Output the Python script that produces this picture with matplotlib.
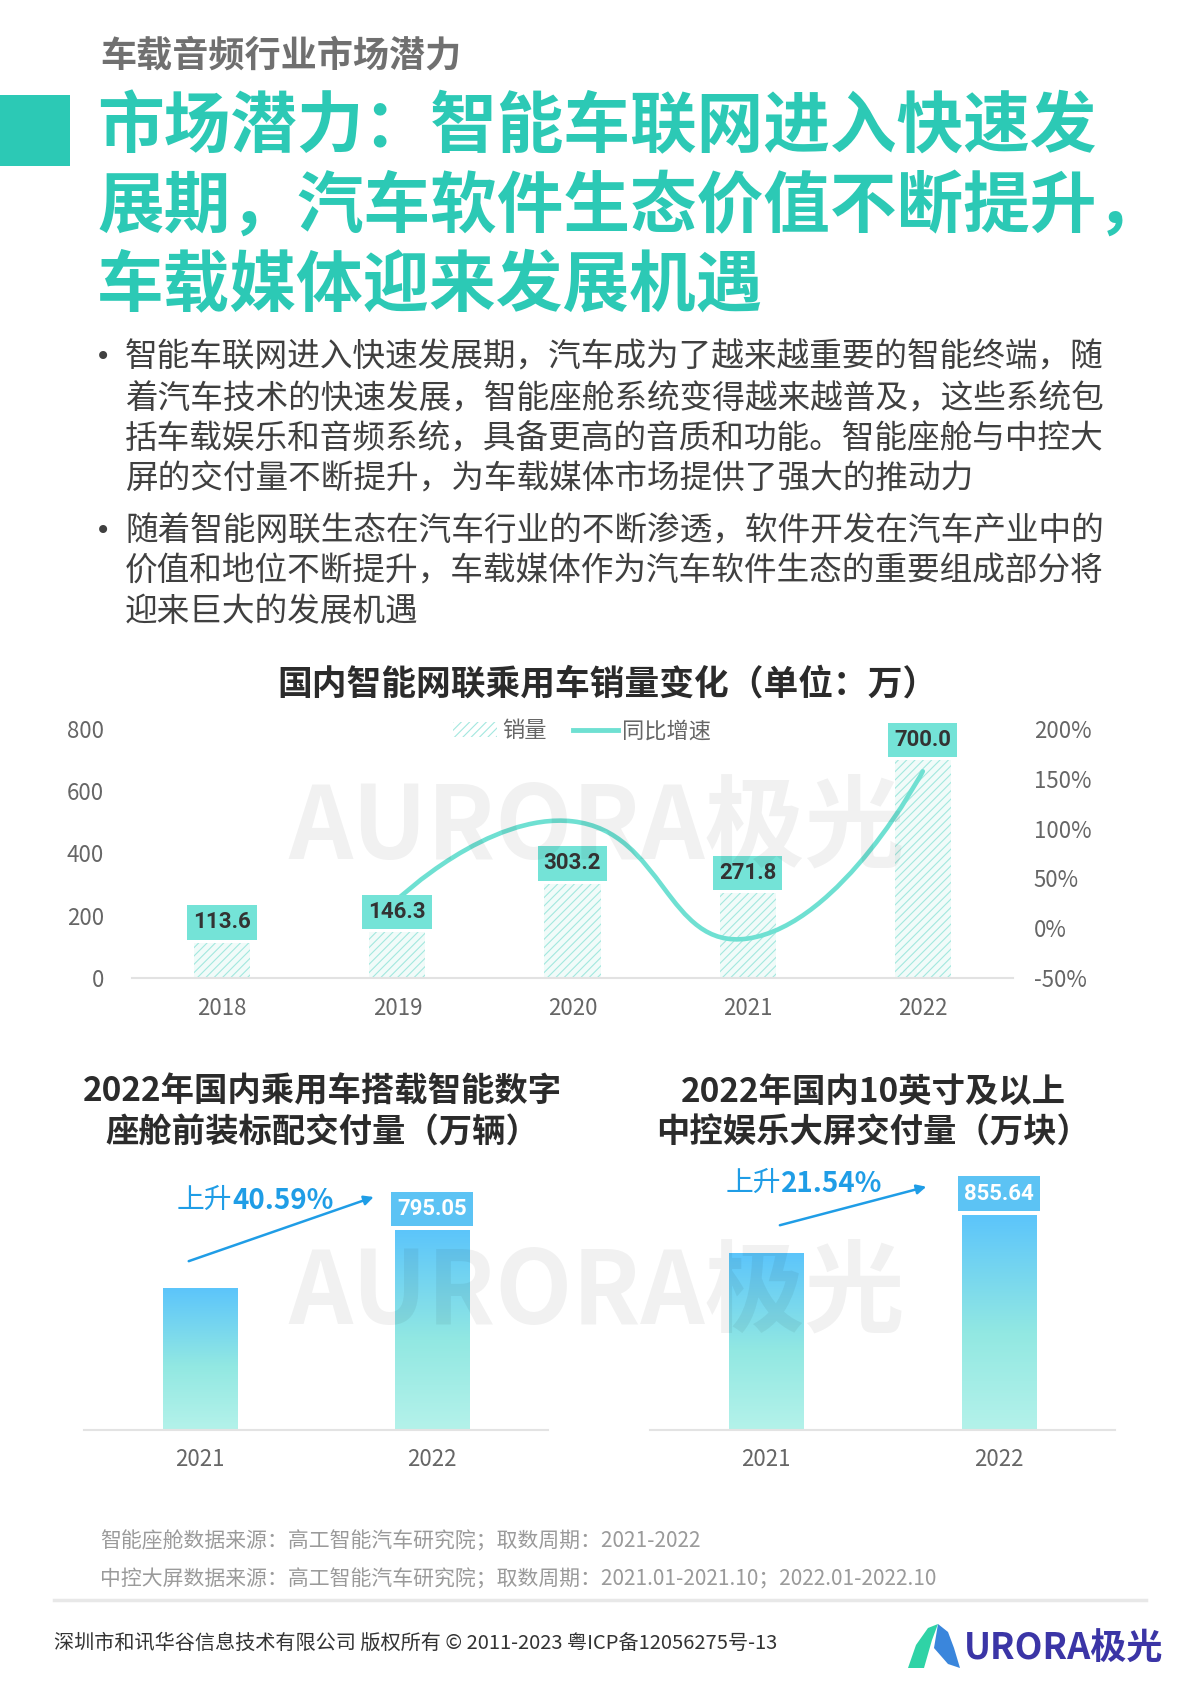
import numpy as np
import matplotlib
matplotlib.use('Agg')
import matplotlib.pyplot as plt
from matplotlib.patches import Rectangle, Polygon, Patch, PathPatch
from matplotlib.lines import Line2D
from matplotlib.path import Path
from matplotlib.colors import LinearSegmentedColormap

plt.rcParams['font.family'] = ['Noto Sans CJK SC', 'DejaVu Sans']
plt.rcParams['hatch.linewidth'] = 0.8

W, H = 1200, 1698

# ---- data ----
years = ['2018', '2019', '2020', '2021', '2022']
sales = [113.6, 146.3, 303.2, 271.8, 700.0]          # 万辆
growth_years = [1, 2, 3, 4]                           # index of 2019..2022
growth = [28.8, 107.3, -10.4, 157.5]                  # 同比增速 %
left_ticks = [0, 200, 400, 600, 800]
right_ticks = [-50, 0, 50, 100, 150, 200]

cockpit_years = ['2021', '2022']
cockpit = [565.51, 795.05]
cockpit_rise = '40.59%'

screen_years = ['2021', '2022']
screen = [704.0, 855.64]
screen_rise = '21.54%'

bullets = [
    ['智能车联网进入快速发展期，汽车成为了越来越重要的智能终端，随',
     '着汽车技术的快速发展，智能座舱系统变得越来越普及，这些系统包',
     '括车载娱乐和音频系统，具备更高的音质和功能。智能座舱与中控大',
     '屏的交付量不断提升，为车载媒体市场提供了强大的推动力'],
    ['随着智能网联生态在汽车行业的不断渗透，软件开发在汽车产业中的',
     '价值和地位不断提升，车载媒体作为汽车软件生态的重要组成部分将',
     '迎来巨大的发展机遇'],
]
title_lines = ['市场潜力：智能车联网进入快速发',
               '展期，汽车软件生态价值不断提升，',
               '车载媒体迎来发展机遇']

TEAL = '#2cc9b5'
LINE_C = '#6fe0d2'
HATCH_C = '#a3e8df'
BOX_C = '#74e3d7'
BLUE = '#1f9de6'
BLUE_BOX = '#5cc3f4'
GRAY = '#666666'


def fx(px):
    return px / W


def fy(py):
    return 1 - py / H


fig = plt.figure(figsize=(W / 100, H / 100), dpi=100)

# ---- page header ----
fig.text(fx(100), fy(56), '车载音频行业市场潜力', fontsize=26, fontweight='bold',
         color='#707070', va='center', ha='left')
fig.add_artist(Rectangle((0, fy(166)), fx(70), 71 / H, transform=fig.transFigure,
                         color=TEAL, lw=0))
for i, t in enumerate(title_lines):
    fig.text(fx(97), fy(128 + i * 79.5), t, fontsize=48, fontweight='heavy',
             color=TEAL, va='center', ha='left')

line_y = [[357, 399, 439, 479], [531, 572, 612]]
for para, ys in zip(bullets, line_y):
    fig.text(fx(95), fy(ys[0]), '•', fontsize=20, color='#404040', va='center',
             family='DejaVu Sans')
    for t, y in zip(para, ys):
        fig.text(fx(125), fy(y), t, fontsize=23.5, color='#404040', va='center')

# ---- chart 1: 销量 + 同比增速 ----
fig.text(fx(607), fy(684), '国内智能网联乘用车销量变化（单位：万）', fontsize=25,
         fontweight='bold', color='#2b2b2b', ha='center', va='center')

ax = fig.add_axes([fx(132), fy(978), 881 / W, 249 / H])
ax.patch.set_alpha(0)
x = np.arange(len(years))
ax.bar(x, sales, width=0.32, facecolor='#f1fbf9', edgecolor=HATCH_C,
       hatch='////', lw=0, zorder=2)
ax.set_xlim(-0.515, 4.515)
ax.set_ylim(0, 800)
ax.set_yticks(left_ticks)
ax.set_xticks(x, years)
ax.tick_params(axis='y', length=0, pad=20, labelsize=16, labelcolor=GRAY)
ax.tick_params(axis='x', length=0, pad=14, labelsize=16, labelcolor=GRAY)
for s in ['top', 'left', 'right']:
    ax.spines[s].set_visible(False)
ax.spines['bottom'].set_color('#e2e2e2')
ax.spines['bottom'].set_linewidth(1.5)

for xi, v in zip(x, sales):
    ax.text(xi, v + 30, f'{v:.1f}', ha='center', va='bottom', fontsize=16,
            fontweight='bold', color='#333333', family='Roboto', zorder=6,
            bbox=dict(boxstyle='square,pad=0.28', fc=BOX_C, ec='none'))

ax2 = ax.twinx()
ax2.set_ylim(-50, 200)
ax2.set_yticks(right_ticks, [f'{t}%' for t in right_ticks])
ax2.tick_params(axis='y', length=0, pad=15, labelsize=16, labelcolor=GRAY)
for s in ax2.spines.values():
    s.set_visible(False)

# smoothed growth line (echarts-style bezier, computed in screen space)
disp = ax2.transData.transform(np.column_stack([growth_years, growth]).astype(float))
smooth = 0.5
verts = [disp[0]]
codes = [Path.MOVETO]
cp0 = disp[0]
for k in range(1, len(disp)):
    p, prev = disp[k], disp[k - 1]
    if k == len(disp) - 1:
        ncp, v, ratio = p, np.zeros(2), 0.5
    else:
        nxt = disp[k + 1]
        v = nxt - prev
        lp = np.hypot(*(p - prev))
        ln = np.hypot(*(nxt - p))
        ratio = ln / (ln + lp)
        ncp = p - v * smooth * (1 - ratio)
    verts += [cp0, ncp, p]
    codes += [Path.CURVE4] * 3
    cp0 = p + v * smooth * ratio
verts = ax2.transData.inverted().transform(np.array(verts))
ax.add_patch(PathPatch(Path(verts, codes), fill=False, ec=LINE_C, lw=3.3,
                       capstyle='round', transform=ax2.transData, zorder=4))

fig.legend(handles=[Patch(facecolor='white', edgecolor=HATCH_C, hatch='////', lw=0, label='销量'),
                    Line2D([], [], color=LINE_C, lw=3.5, label='同比增速')],
           loc='center', bbox_to_anchor=(fx(582), fy(731)), ncol=2, frameon=False,
           fontsize=16, labelcolor=GRAY, handlelength=2.0, handletextpad=0.2,
           columnspacing=1.2)

# ---- charts 2 & 3: gradient bars ----
grad_cmap = LinearSegmentedColormap.from_list('g', [(0, '#b4f2ea'), (0.45, '#92e8e2'), (1, '#5cc5fb')])
grad = np.linspace(0, 1, 256).reshape(-1, 1)


def small_chart(rect, cats, vals, rise, arrow_from, arrow_to, text_xy):
    a = fig.add_axes(rect)
    a.patch.set_alpha(0)
    xs = np.arange(len(vals))
    bars = a.bar(xs, vals, width=0.32, color='none', lw=0)
    for b in bars:
        a.imshow(grad, extent=[b.get_x(), b.get_x() + b.get_width(), 0, b.get_height()],
                 origin='lower', aspect='auto', cmap=grad_cmap, zorder=2)
    a.set_xlim(-0.5, 1.5)
    a.set_ylim(0, 1000)
    a.set_xticks(xs, cats)
    a.set_yticks([])
    a.tick_params(axis='x', length=0, pad=13, labelsize=16, labelcolor=GRAY)
    for s in ['top', 'left', 'right']:
        a.spines[s].set_visible(False)
    a.spines['bottom'].set_color('#e3e3e3')
    a.spines['bottom'].set_linewidth(1.5)
    a.text(xs[-1], vals[-1] + 42, f'{vals[-1]:.2f}', ha='center', va='bottom',
           fontsize=16, fontweight='bold', color='white', family='Roboto', zorder=6,
           bbox=dict(boxstyle='square,pad=0.28', fc=BLUE_BOX, ec='none'))
    a.annotate('', xy=arrow_to, xytext=arrow_from,
               arrowprops=dict(arrowstyle='-|>', color=BLUE, lw=1.8, mutation_scale=14))
    t1 = a.text(text_xy[0], text_xy[1], '上升', fontsize=20, color=BLUE,
                ha='left', va='center', zorder=6)
    a.annotate(rise, xy=(1, 0), xycoords=t1, ha='left', va='bottom', fontsize=20,
               fontweight='bold', color=BLUE, zorder=6)
    return a


small_chart([fx(84), fy(1430), 464 / W, 251 / H], cockpit_years, cockpit,
            cockpit_rise, (-0.06, 669), (0.76, 932), (-0.10, 916))
small_chart([fx(650), fy(1430), 465 / W, 251 / H], screen_years, screen,
            screen_rise, (0.047, 813), (0.70, 972), (-0.175, 984))

fig.text(fx(322), fy(1092), '2022年国内乘用车搭载智能数字', fontsize=24,
         fontweight='bold', color='#2b2b2b', ha='center', va='center')
fig.text(fx(322), fy(1133), '座舱前装标配交付量（万辆）', fontsize=24,
         fontweight='bold', color='#2b2b2b', ha='center', va='center')
fig.text(fx(873), fy(1092), '2022年国内10英寸及以上', fontsize=24,
         fontweight='bold', color='#2b2b2b', ha='center', va='center')
fig.text(fx(873), fy(1133), '中控娱乐大屏交付量（万块）', fontsize=24,
         fontweight='bold', color='#2b2b2b', ha='center', va='center')

# ---- watermarks ----
for wy in [829, 1294]:
    fig.text(fx(597), fy(wy), 'AURORA极光', fontsize=72, fontweight='heavy',
             color='black', alpha=0.055, ha='center', va='center', zorder=1)

# ---- footnotes / footer ----
fig.text(fx(100), fy(1541), '智能座舱数据来源：高工智能汽车研究院；取数周期：2021-2022',
         fontsize=15, color='#9a9a9a', va='center', style='italic')
fig.text(fx(100), fy(1579), '中控大屏数据来源：高工智能汽车研究院；取数周期：2021.01-2021.10；2022.01-2022.10',
         fontsize=15, color='#9a9a9a', va='center', style='italic')
fig.add_artist(Line2D([fx(54), fx(1146)], [fy(1600), fy(1600)], color='#e8e8e8',
                      lw=2.5, transform=fig.transFigure))
fig.text(fx(54), fy(1643), '深圳市和讯华谷信息技术有限公司 版权所有 © 2011-2023 粤ICP备12056275号-13',
         fontsize=14.5, color='#333333', va='center')

# logo
left_leg = [(908, 1668), (916, 1645), (928, 1628), (938, 1624), (932, 1640), (924, 1668)]
right_leg = [(938, 1624), (948, 1632), (954, 1648), (960, 1668), (948, 1664), (934, 1648)]
fig.add_artist(Polygon([(fx(a), fy(b)) for a, b in left_leg], closed=True,
                       transform=fig.transFigure, color='#2fd3a6', lw=0))
fig.add_artist(Polygon([(fx(a), fy(b)) for a, b in right_leg], closed=True,
                       transform=fig.transFigure, color='#3a86dc', lw=0))
fig.text(fx(964), fy(1649), 'URORA极光', fontsize=26, fontweight='heavy',
         color='#3b35a6', va='center', ha='left')

fig.savefig('out.png', dpi=100)
